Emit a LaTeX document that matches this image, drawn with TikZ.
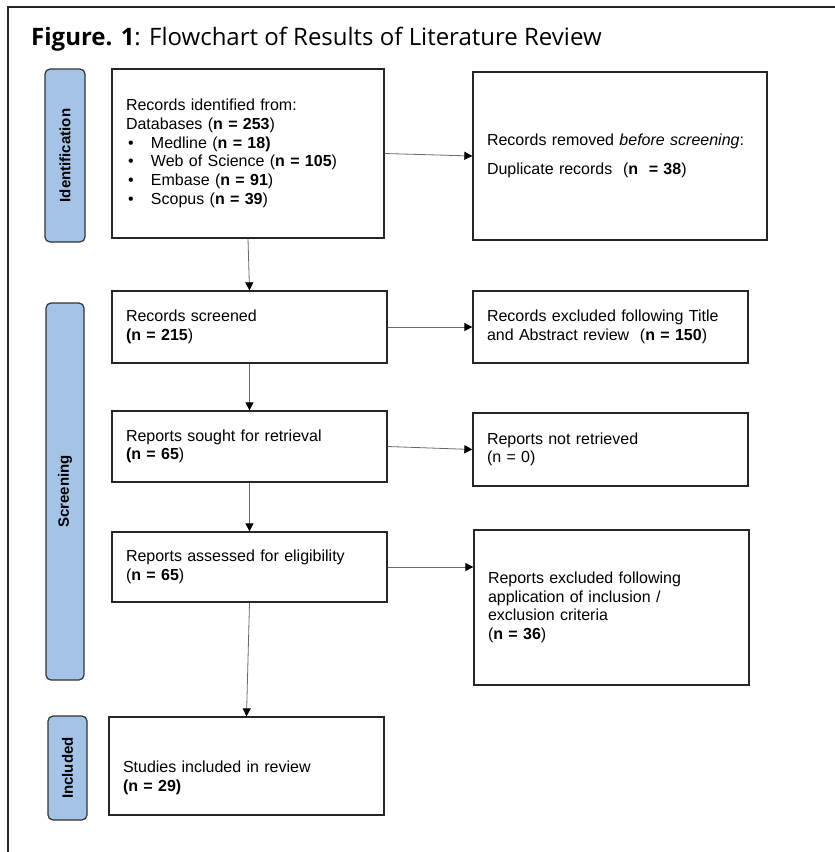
\documentclass[tikz,border=0pt]{standalone}
\usepackage{fontspec}
\setmainfont{Liberation Sans}
\newfontfamily\captionfont{Open Sans}
\usetikzlibrary{arrows.meta,positioning}
\definecolor{tabblue}{RGB}{165,195,230}
\definecolor{linegray}{RGB}{105,105,105}
\newcommand{\listdot}{\makebox[25pt][l]{\hspace{2pt}\textbullet}}

\begin{document}
\begin{tikzpicture}[x=1pt,y=-1pt]
    % `stage' is the rounded blue tab at the left of each phase.
    % `record' is used for every box of the flow.
    % `flow' is used for the connectors.
    \tikzstyle{stage} = [draw=black!80,fill=tabblue,line width=1.2pt,rounded corners=5pt,rotate=90,inner sep=0pt,font=\fontsize{15}{18}\selectfont\bfseries]
    \tikzstyle{record} = [draw=black!85,line width=1.3pt,align=left,inner xsep=14pt,font=\fontsize{16}{18.7}\selectfont]
    \tikzstyle{flow} = [draw=linegray,line width=0.8pt,-{Triangle[width=8pt,length=8pt,color=black]}]
    %
    \useasboundingbox (0,0) rectangle (835,852);
    \draw[line width=1.5pt,black!85] (835,7) -- (8,7) -- (8,852);
    \node[anchor=base west,inner sep=0pt,font=\captionfont\fontsize{24}{28}\selectfont] (title) at (31,45)
        {\textbf{Figure. 1}: Flowchart of Results of Literature Review};
    %
    % Phase tabs.
    \node[stage,minimum width=173pt,minimum height=40pt] (tabid) at (65,155.5) {Identification};
    \node[stage,minimum width=377pt,minimum height=38pt] (tabscr) at (65,491.5) {Screening};
    \node[stage,minimum width=104pt,minimum height=39pt] (tabinc) at (67.5,768) {Included};
    %
    % Main column.
    \node[record,text width=244pt,minimum height=169pt] (ident) at (248,153.5)
        {Records identified from:\\ Databases (\textbf{n = 253})\\
         \listdot Medline (\textbf{n = 18)}\\ \listdot Web of Science (\textbf{n = 105})\\
         \listdot Embase (\textbf{n = 91})\\ \listdot Scopus (\textbf{n = 39})};
    \node[record,text width=247pt,minimum height=72pt] (screen) at (249.5,327)
        {Records screened\\ \textbf{(n = 215})};
    \node[record,text width=247pt,minimum height=71pt] (sought) at (249.5,446.5)
        {Reports sought for retrieval\\ \textbf{(n = 65})};
    \node[record,text width=247pt,minimum height=70pt] (elig) at (249.5,567)
        {Reports assessed for eligibility\\ (\textbf{n = 65})};
    \node[record,text width=247pt,minimum height=98pt] (incl) at (246.5,766)
        {\rule{0pt}{35pt}Studies included in review\\ \textbf{(n = 29)}};
    %
    % Side column.
    \node[record,text width=266pt,minimum height=168pt] (removed) at (620,156)
        {Records removed \textit{before screening}:\\[11pt] Duplicate records\ \ (\textbf{n\ \ = 38})};
    \node[record,text width=247pt,minimum height=72pt] (extitle) at (610.5,327)
        {Records excluded following Title\\ and Abstract review\ \ (\textbf{n = 150})};
    \node[record,text width=247pt,minimum height=73pt] (notret) at (610.5,449.5)
        {Reports not retrieved\\ (n = 0)};
    \node[record,text width=247pt,minimum height=155pt] (excrit) at (611.5,607.5)
        {Reports excluded following\\ application of inclusion /\\ exclusion criteria\\ (\textbf{n = 36})};
    %
    % Connectors.
    \draw[flow] (ident.east) -- (removed.west);
    \draw[flow] (screen.east) -- (extitle.west);
    \draw[flow] (sought.east) -- (notret.west);
    \draw[flow] (elig.east) -- (elig.east -| excrit.west);
    \draw[flow] (ident.south) -- (screen.north);
    \draw[flow] (screen.south) -- (sought.north);
    \draw[flow] (sought.south) -- (elig.north);
    \draw[flow] (elig.south) -- (incl.north);
\end{tikzpicture}
\end{document}
